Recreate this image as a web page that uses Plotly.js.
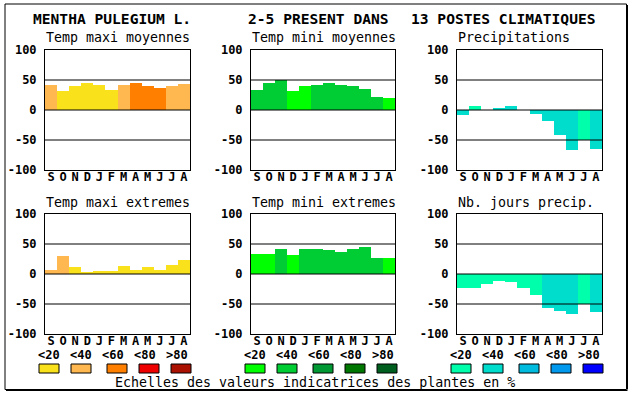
<!DOCTYPE html>
<html>
<head>
<meta charset="utf-8">
<script src="https://cdn.plot.ly/plotly-3.0.1.min.js"></script>
<style>html,body{margin:0;padding:0;background:#fff;}#chart{width:630px;height:394px;}</style>
</head>
<body>
<div id="chart"></div>
<script>
// ---------- DATA ----------
const MONTHS = ["S","O","N","D","J","F","M","A","M","J","J","A"];
const Y_TICKS = [-100, -50, 0, 50, 100];
const Y_TICK_LABELS = ["-100", "-50", "0", "50", "100"];
const SCALE_LABELS = ["<20", "<40", "<60", "<80", ">80"];

const TITLE_PARTS = ["MENTHA PULEGIUM L.", "2-5 PRESENT DANS", "13 POSTES CLIMATIQUES"];
const PANEL_TITLES = ["Temp maxi moyennes", "Temp mini moyennes", "Precipitations",
                      "Temp maxi extremes", "Temp mini extremes", "Nb. jours precip."];
const FOOTER = "Echelles des valeurs indicatrices des plantes en %";

// palettes (class index 0..4 : <20 <40 <60 <80 >80)
const WARM  = ["#F9E21B", "#FFB84F", "#FF8000", "#EE0000", "#AA1100"];
const GREEN = ["#00FF00", "#00CC33", "#009933", "#007700", "#005F1F"];
const BLUE  = ["#00FFAA", "#00DDCC", "#00BBDD", "#0099EE", "#0000FF"];

// values
const tmaxMoy     = [42, 32, 40, 45, 42, 33, 42, 45, 40, 37, 40, 43];
const tmaxMoyCls  = [1, 0, 0, 0, 0, 0, 1, 2, 2, 2, 1, 1];
const tminMoy     = [34, 45, 50, 32, 40, 42, 45, 42, 40, 35, 22, 20];
const tminMoyCls  = [1, 1, 1, 0, 0, 1, 1, 1, 1, 1, 1, 0];
const precip      = [-8, 7, 0, 3, 7, 0, -7, -18, -42, -67, -50, -65];
const precipCls   = [1, 0, 1, 1, 1, 1, 1, 1, 1, 1, 0, 1];
const tmaxExt     = [7, 30, 12, 3, 5, 5, 13, 7, 12, 7, 15, 23];
const tmaxExtCls  = [1, 1, 0, 0, 0, 0, 0, 0, 0, 0, 0, 0];
const tminExt     = [33, 33, 42, 32, 42, 42, 40, 37, 42, 45, 27, 27];
const tminExtCls  = [0, 0, 1, 0, 1, 1, 1, 1, 1, 1, 1, 0];
const nbJours     = [-23, -23, -17, -12, -13, -23, -35, -57, -62, -67, -50, -63];
const nbJoursCls  = [0, 0, 0, 0, 0, 0, 0, 1, 1, 1, 0, 1];

// ---------- LAYOUT ----------
const W = 630, H = 394;
const px = x => x / W;
const py = y => 1 - y / H;
const FONT = "DejaVu Sans Mono, Liberation Mono, monospace";

const panels = [
  {vals: tmaxMoy, cls: tmaxMoyCls, pal: WARM,  x0: 45,  x1: 190, y0: 50,  y1: 170},
  {vals: tminMoy, cls: tminMoyCls, pal: GREEN, x0: 251, x1: 395, y0: 50,  y1: 170},
  {vals: precip,  cls: precipCls,  pal: BLUE,  x0: 457, x1: 602, y0: 50,  y1: 170},
  {vals: tmaxExt, cls: tmaxExtCls, pal: WARM,  x0: 45,  x1: 190, y0: 214, y1: 334},
  {vals: tminExt, cls: tminExtCls, pal: GREEN, x0: 251, x1: 395, y0: 214, y1: 334},
  {vals: nbJours, cls: nbJoursCls, pal: BLUE,  x0: 457, x1: 602, y0: 214, y1: 334}
];

const idx = MONTHS.map((_, i) => i);
const data = [];
const layout = {
  width: W, height: H,
  margin: {l: 0, r: 0, t: 0, b: 0, pad: 0},
  paper_bgcolor: "#fff", plot_bgcolor: "#fff",
  showlegend: false, bargap: 0,
  font: {family: FONT, color: "#000"},
  shapes: [], annotations: []
};

panels.forEach((p, k) => {
  const n = k === 0 ? "" : String(k + 1);
  data.push({
    type: "bar", x: idx, y: p.vals,
    xaxis: "x" + n, yaxis: "y" + n,
    marker: {color: p.cls.map(c => p.pal[c]), line: {width: 0}},
    width: 1, hoverinfo: "skip"
  });
  layout["xaxis" + n] = {
    domain: [px(p.x0), px(p.x1)], anchor: "y" + n,
    range: [-0.5, 11.5], tickvals: idx, ticktext: MONTHS,
    showline: true, mirror: true, linecolor: "#000", linewidth: 1,
    showgrid: false, zeroline: false, ticks: "", fixedrange: true,
    ticklabelstandoff: -4,
    tickfont: {family: FONT, size: 12, weight: "bold", color: "#000"}
  };
  layout["yaxis" + n] = {
    domain: [py(p.y1), py(p.y0)], anchor: "x" + n,
    range: [-100, 100], tickvals: Y_TICKS, ticktext: Y_TICK_LABELS,
    showline: true, mirror: true, linecolor: "#000", linewidth: 1,
    showgrid: false, zeroline: false, fixedrange: true,
    ticks: "outside", ticklen: 5, tickcolor: "rgba(0,0,0,0)",
    tickfont: {family: FONT, size: 12, weight: "bold", color: "#000"}
  };
  [-50, 0, 50].forEach(v => layout.shapes.push({
    type: "line", xref: "x" + n + " domain", yref: "y" + n,
    x0: 0, x1: 1, y0: v, y1: v, layer: "above",
    line: {color: "#000", width: 1}
  }));
  layout.annotations.push({
    text: PANEL_TITLES[k], xref: "paper", yref: "paper",
    x: px(p.x0 - 1), y: py(p.y0 - 12), xanchor: "left", yanchor: "middle",
    showarrow: false, font: {family: FONT, size: 13.3, color: "#000"}
  });
});

// main title
const titleX = [31, 246, 409];
TITLE_PARTS.forEach((t, i) => layout.annotations.push({
  text: t, xref: "paper", yref: "paper", x: px(titleX[i]), y: py(18),
  xanchor: "left", yanchor: "middle", showarrow: false,
  font: {family: FONT, size: 14.6, weight: "bold", color: "#000"}
}));

// scale legends
const groupX = [39, 245, 451];
const boxOff = [0, 32, 68, 100, 132];
const labOff = [10, 42, 74, 106, 138];
[WARM, GREEN, BLUE].forEach((pal, g) => {
  pal.forEach((c, i) => {
    const bx = groupX[g] + boxOff[i];
    layout.shapes.push({
      type: "rect", xref: "paper", yref: "paper",
      x0: px(bx), x1: px(bx + 20), y0: py(373), y1: py(364),
      fillcolor: c, line: {color: "#000", width: 1}
    });
    layout.annotations.push({
      text: SCALE_LABELS[i], xref: "paper", yref: "paper",
      x: px(groupX[g] + labOff[i]), y: py(355), xanchor: "center", yanchor: "middle",
      showarrow: false, font: {family: FONT, size: 12, weight: "bold", color: "#000"}
    });
  });
});

layout.annotations.push({
  text: FOOTER, xref: "paper", yref: "paper", x: px(315), y: py(382.5),
  xanchor: "center", yanchor: "middle", showarrow: false,
  font: {family: FONT, size: 13.3, color: "#000"}
});

// outer frame
layout.shapes.push({type: "rect", xref: "paper", yref: "paper",
  x0: px(5), x1: px(626.5), y0: py(389.5), y1: py(4),
  line: {color: "#000", width: 1}, fillcolor: "rgba(0,0,0,0)"});
layout.shapes.push({type: "line", xref: "paper", yref: "paper",
  x0: px(627.5), x1: px(627.5), y0: py(389.5), y1: py(5), line: {color: "#000", width: 1}});
layout.shapes.push({type: "line", xref: "paper", yref: "paper",
  x0: px(6), x1: px(627.5), y0: py(390.5), y1: py(390.5), line: {color: "#000", width: 1}});

Plotly.newPlot("chart", data, layout, {staticPlot: true, displayModeBar: false});
</script>
</body>
</html>
